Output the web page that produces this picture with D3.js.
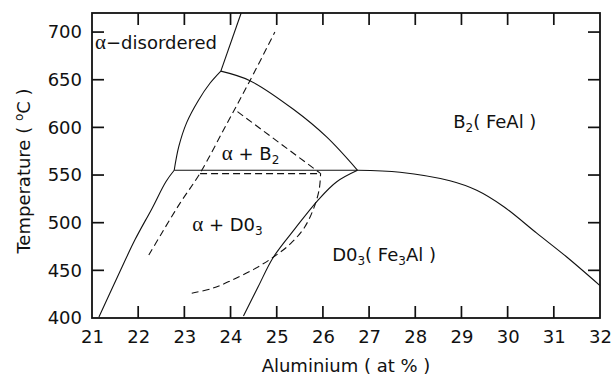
<!DOCTYPE html>
<html lang="en">
<head>
<meta charset="UTF-8">
<title>Fe-Al phase diagram</title>
<script src="https://cdn.jsdelivr.net/npm/d3@7"></script>
<style>
  body { margin: 0; background: #fff; }
  svg text { font-family: "DejaVu Sans", sans-serif; fill: #111; }
</style>
</head>
<body>
<div id="container"></div>
<script>
// axis ranges and ticks
const xTicks = [21, 22, 23, 24, 25, 26, 27, 28, 29, 30, 31, 32];
const yTicks = [400, 450, 500, 550, 600, 650, 700];

// phase boundaries, [Al at%, T degC]
const alphaLower = [[21.15, 401], [21.55, 443], [21.93, 482], [22.3, 515], [22.6, 543], [22.78, 555]];
const alphaUpper = [[22.78, 555], [22.88, 580], [23.05, 605], [23.3, 628], [23.55, 646], [23.79, 659]];
const alphaTop = [[23.79, 659], [24.23, 720]];
const b2Boundary = [[23.79, 659], [24.42, 649], [25.36, 619], [26.08, 590], [26.75, 555]];
const eutectoid = [[22.78, 555], [26.75, 555]];
const orderLine = [[26.75, 555], [27.67, 553], [28.75, 544], [29.33, 534], [29.91, 517], [30.63, 489], [31.28, 464], [32, 434]];
const d03Boundary = [[24.28, 402], [24.6, 433], [24.93, 464], [25.4, 494], [25.9, 524], [26.3, 543], [26.75, 555]];

// dashed (metastable) lines
const dashDiagonal = [[22.23, 466], [22.51, 489], [22.9, 520], [23.34, 552], [23.9, 602], [24.42, 649], [24.96, 700]];
const dashFlat = [[23.34, 551.5], [25.94, 551.5]];
const dashSlope = [[24.15, 616.5], [25.94, 552]];
const dashLower = [[23.16, 426], [23.6, 431], [24.0, 439], [24.5, 451], [24.93, 464], [25.3, 478], [25.6, 495], [25.8, 515], [25.92, 535], [25.95, 552]];

const W = 615, H = 379;
const margin = { top: 13, right: 15, bottom: 61, left: 92 };
const w = W - margin.left - margin.right;
const h = H - margin.top - margin.bottom;

const x = d3.scaleLinear().domain([21, 32]).range([0, w]);
const y = d3.scaleLinear().domain([400, 720]).range([h, 0]);

const svg = d3.select("#container").append("svg")
  .attr("width", W).attr("height", H);
const g = svg.append("g").attr("transform", `translate(${margin.left},${margin.top})`);

const line = d3.line().x(d => x(d[0])).y(d => y(d[1])).curve(d3.curveCatmullRom.alpha(0.5));
const straight = d3.line().x(d => x(d[0])).y(d => y(d[1]));

// tick labels through d3 axes
const ax = (sel) => { sel.select(".domain").remove(); sel.selectAll(".tick line").remove(); };

g.append("g").attr("transform", `translate(0,${h})`)
  .call(d3.axisBottom(x).tickValues(xTicks).tickSize(0).tickPadding(12).tickFormat(d3.format("d")))
  .call(ax)
  .selectAll("text").style("font-size", "18px").style("font-family", "DejaVu Sans").attr("fill", "#111");

g.append("g")
  .call(d3.axisLeft(y).tickValues(yTicks).tickSize(0).tickPadding(10).tickFormat(d3.format("d")))
  .call(ax)
  .selectAll("text").style("font-size", "18px").style("font-family", "DejaVu Sans").attr("fill", "#111");

// solid boundaries
[alphaLower, alphaUpper, b2Boundary, orderLine, d03Boundary].forEach(pts => {
  g.append("path").attr("d", line(pts))
    .attr("fill", "none").attr("stroke", "#111").attr("stroke-width", 1.1);
});
[alphaTop, eutectoid].forEach(pts => {
  g.append("path").attr("d", straight(pts))
    .attr("fill", "none").attr("stroke", "#111").attr("stroke-width", 1.1);
});

// dashed lines
[dashDiagonal, dashLower].forEach(pts => {
  g.append("path").attr("d", line(pts))
    .attr("fill", "none").attr("stroke", "#111").attr("stroke-width", 1.1)
    .attr("stroke-dasharray", "7,4");
});
[dashFlat, dashSlope].forEach(pts => {
  g.append("path").attr("d", straight(pts))
    .attr("fill", "none").attr("stroke", "#111").attr("stroke-width", 1.1)
    .attr("stroke-dasharray", "7,4");
});

// frame and inward tick marks
g.append("rect").attr("width", w).attr("height", h)
  .attr("fill", "none").attr("stroke", "#111").attr("stroke-width", 1.8);

const tk = 12;
const tickG = g.append("g");
const tickLine = (sel) => sel.attr("stroke", "#111").attr("stroke-width", 1.7);
tickG.selectAll("line.xb").data(xTicks.slice(1, -1)).join("line").attr("class", "xb").call(tickLine)
  .attr("x1", d => x(d)).attr("x2", d => x(d)).attr("y1", h).attr("y2", h - tk);
tickG.selectAll("line.xt").data(xTicks.slice(1, -1)).join("line").attr("class", "xt").call(tickLine)
  .attr("x1", d => x(d)).attr("x2", d => x(d)).attr("y1", 0).attr("y2", tk);
tickG.selectAll("line.yl").data(yTicks.slice(1)).join("line").attr("class", "yl").call(tickLine)
  .attr("x1", 0).attr("x2", tk).attr("y1", d => y(d)).attr("y2", d => y(d));
tickG.selectAll("line.yr").data(yTicks.slice(1)).join("line").attr("class", "yr").call(tickLine)
  .attr("x1", w).attr("x2", w - tk).attr("y1", d => y(d)).attr("y2", d => y(d));

// region labels
function label(al, t, parts) {
  const txt = g.append("text").attr("x", x(al)).attr("y", y(t)).style("font-size", "18px");
  parts.forEach(p => {
    const s = txt.append("tspan").text(p.t);
    if (p.sub) s.style("font-size", "12px").attr("dy", 4);
    if (p.after) s.attr("dy", -4);
    if (p.greek) s.style("font-family", "Liberation Serif").style("font-size", "21px");
  });
}

label(21.065, 682, [{ t: "α", greek: true }, { t: "−disordered" }]);
label(23.81, 565.5, [{ t: "α", greek: true }, { t: " + B" }, { t: "2", sub: true }]);
label(23.17, 491, [{ t: "α", greek: true }, { t: " + D0" }, { t: "3", sub: true }]);
label(26.2, 460, [{ t: "D0" }, { t: "3", sub: true }, { t: "( Fe", after: true }, { t: "3", sub: true }, { t: "Al )", after: true }]);
label(28.82, 599, [{ t: "B" }, { t: "2", sub: true }, { t: "( FeAl )", after: true }]);

// axis titles
svg.append("text").attr("x", margin.left + x(26.5)).attr("y", 372)
  .attr("text-anchor", "middle").style("font-size", "18px")
  .text("Aluminium ( at % )");

const yt = svg.append("text")
  .attr("transform", `translate(30,${171}) rotate(-90)`)
  .attr("text-anchor", "middle").style("font-size", "18px");
yt.append("tspan").text("Temperature ( ");
yt.append("tspan").text("o").style("font-size", "12px").attr("dy", -7);
yt.append("tspan").text("C )").attr("dy", 7);
</script>
</body>
</html>
